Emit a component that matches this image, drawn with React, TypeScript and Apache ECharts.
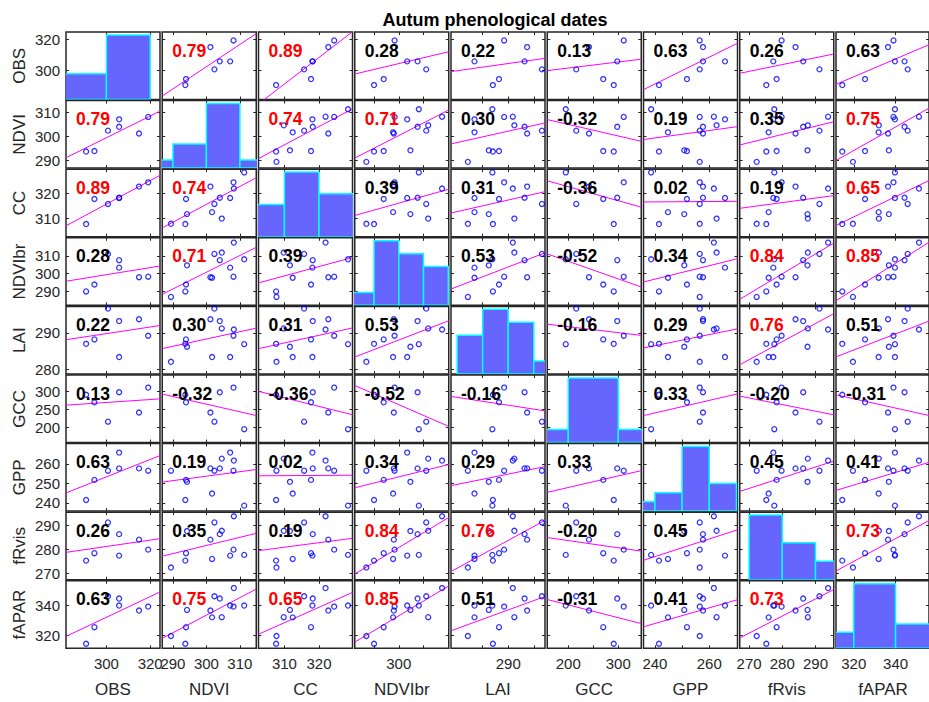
import React, { useEffect, useRef } from "react";
import * as echarts from "echarts";

// ---- data (13 observations, null = missing) ----
const variables = ["OBS", "NDVI", "CC", "NDVIbr", "LAI", "GCC", "GPP", "fRvis", "fAPAR"];
const OBS = [290.7, null, null, null, null, 300.7, 294.5, 305.8, 305.8, null, 314.9, 319.1, null];
const NDVI = [293.7, 289.4, 304.6, 294.2, 301.7, 302.4, 293.9, 307.1, 304.0, 308.2, 301.2, 308.1, 311.3];
const CC = [307.6, 307.7, 309.8, 311.6, 312.4, 315.7, 317.7, 318.1, 318.2, 321.9, 322.7, 324.4, 328.4];
const NDVIbr = [290.0, 286.9, 311.9, 304.7, 297.7, 311.1, 293.9, 303.4, 307.6, 317.5, 298.0, 298.3, 308.1];
const LAI = [287.0, 282.1, 291.2, 286.2, 283.4, 296.6, 288.2, 283.4, 293.2, 290.9, 293.7, 289.2, 286.9];
const GCC = [291, null, null, null, null, 216, 270, null, 298, null, 241.5, 311, 195];
const GPP = [241.5, 256.5, 262.7, 250.8, 244.8, 256.5, 251.8, 265.8, 257.7, 261.7, 257.7, 256.5, 238.6];
const fRvis = [275.2, 272.3, 287.7, 287.6, 275.9, 291.2, 278.3, 277.3, 286.3, 293.8, 284.0, 279.8, 277.6];
const fAPAR = [314.5, 319.6, 332.0, 336.8, 331.9, 345.8, 325.4, 339.7, 344.3, 351.2, 336.4, 339.0, 339.7];
const dataVars: (number | null)[][] = [OBS, NDVI, CC, NDVIbr, LAI, GCC, GPP, fRvis, fAPAR];

// correlation coefficients shown in the cells (row = y variable, col = x variable)
const corrOBS = [null, 0.79, 0.89, 0.28, 0.22, 0.13, 0.63, 0.26, 0.63];
const corrNDVI = [0.79, null, 0.74, 0.71, 0.30, -0.32, 0.19, 0.35, 0.75];
const corrCC = [0.89, 0.74, null, 0.39, 0.31, -0.36, 0.02, 0.19, 0.65];
const corrNDVIbr = [0.28, 0.71, 0.39, null, 0.53, -0.52, 0.34, 0.84, 0.85];
const corrLAI = [0.22, 0.30, 0.31, 0.53, null, -0.16, 0.29, 0.76, 0.51];
const corrGCC = [0.13, -0.32, -0.36, -0.52, -0.16, null, 0.33, -0.20, -0.31];
const corrGPP = [0.63, 0.19, 0.02, 0.34, 0.29, 0.33, null, 0.45, 0.41];
const corrFRvis = [0.26, 0.35, 0.19, 0.84, 0.76, -0.20, 0.45, null, 0.73];
const corrFAPAR = [0.63, 0.75, 0.65, 0.85, 0.51, -0.31, 0.41, 0.73, null];
const corrRows = [corrOBS, corrNDVI, corrCC, corrNDVIbr, corrLAI, corrGCC, corrGPP, corrFRvis, corrFAPAR];

// axis limits and ticks per variable
const axisMin = [281.5, 286.8, 302.5, 282.2, 278.8, 158, 235.8, 267.2, 311.5];
const axisMax = [324.5, 314.9, 329.7, 320.2, 297.2, 346, 270.4, 295.5, 356];
const xTickLabels = [[300, 320], [290, 300, 310], [310, 320], [300], [290], [200, 300], [240, 260], [270, 280, 290], [320, 340]];
const xTickMarks = [[300, 320], [290, 300, 310], [310, 320], [290, 300, 310], [285, 290, 295], [200, 250, 300], [240, 250, 260], [270, 280, 290], [320, 340]];
const yTickLabels = [[300, 320], [290, 300, 310], [310, 320], [290, 300, 310], [280, 290], [200, 250, 300], [240, 250, 260], [270, 280, 290], [320, 340]];
const histEdges = [
  [280, 300, 320],
  [280, 290, 300, 310, 320],
  [300, 310, 320, 330],
  [280, 290, 300, 310, 320],
  [280, 285, 290, 295, 300],
  [100, 200, 300, 400],
  [230, 240, 250, 260, 270],
  [270, 280, 290, 300],
  [300, 320, 340, 360],
];

const TITLE = "Autum phenological dates";

// layout
const X0 = 66, XP = 96.25, CW = 94;
const Y0 = 32, YP = 68.6, CH = 67.5;
const FONT = "'Liberation Sans', Arial, Helvetica, sans-serif";
const AX = "#262626";

function histCounts(vals: (number | null)[], edges: number[]) {
  const v = vals.filter((x) => x !== null) as number[];
  const out: number[][] = [];
  for (let b = 0; b < edges.length - 1; b++) {
    const lo = edges[b], hi = edges[b + 1];
    const last = b === edges.length - 2;
    const c = v.filter((x) => x >= lo && (last ? x <= hi : x < hi)).length;
    out.push([lo, hi, c]);
  }
  return out;
}

function fit(pts: number[][]) {
  const n = pts.length;
  const mx = pts.reduce((s, p) => s + p[0], 0) / n;
  const my = pts.reduce((s, p) => s + p[1], 0) / n;
  let sxy = 0, sxx = 0;
  pts.forEach((p) => { sxy += (p[0] - mx) * (p[1] - my); sxx += (p[0] - mx) ** 2; });
  const b = sxy / sxx;
  return { a: my - b * mx, b };
}

function buildOption() {
  const grid: any[] = [], xAxis: any[] = [], yAxis: any[] = [], series: any[] = [], graphic: any[] = [];
  const tickStyle = { show: true, inside: true, length: 3, lineStyle: { color: AX, width: 1 } };
  const labelStyle = { color: AX, fontSize: 15, fontFamily: FONT };

  for (let i = 0; i < 9; i++) {
    for (let j = 0; j < 9; j++) {
      const g = i * 9 + j;
      const L = X0 + j * XP, T = Y0 + i * YP;
      grid.push({ left: L, top: T, width: CW, height: CH, show: true, borderColor: AX, borderWidth: 1.5, backgroundColor: "#fff" });
      const xb = xAxis.length;
      xAxis.push({
        type: "value", gridIndex: g, position: "bottom", min: axisMin[j], max: axisMax[j],
        axisLine: { show: false }, splitLine: { show: false },
        axisTick: { ...tickStyle, customValues: xTickMarks[j] },
        axisLabel: { show: i === 8, customValues: xTickLabels[j], margin: 8, ...labelStyle },
      });
      xAxis.push({
        type: "value", gridIndex: g, position: "top", min: axisMin[j], max: axisMax[j],
        axisLine: { show: false }, splitLine: { show: false },
        axisTick: { ...tickStyle, customValues: xTickMarks[j] }, axisLabel: { show: false },
      });
      const yl = yAxis.length;
      yAxis.push({
        type: "value", gridIndex: g, position: "left", min: axisMin[i], max: axisMax[i],
        axisLine: { show: false }, splitLine: { show: false },
        axisTick: { ...tickStyle, customValues: yTickLabels[i] },
        axisLabel: { show: j === 0, customValues: yTickLabels[i], margin: 6, ...labelStyle },
      });
      yAxis.push({
        type: "value", gridIndex: g, position: "right", min: axisMin[i], max: axisMax[i],
        axisLine: { show: false }, splitLine: { show: false },
        axisTick: { ...tickStyle, customValues: yTickLabels[i] }, axisLabel: { show: false },
      });

      if (i === j) {
        const counts = histCounts(dataVars[i], histEdges[i]);
        const maxC = Math.max(...counts.map((c) => c[2]));
        const yc = yAxis.length;
        yAxis.push({ type: "value", gridIndex: g, min: 0, max: maxC * 1.045, show: false });
        series.push({
          type: "custom", xAxisIndex: xb, yAxisIndex: yc, clip: true, data: counts,
          renderItem: (params: any, api: any) => {
            const p0 = api.coord([api.value(0), 0]);
            const p1 = api.coord([api.value(1), api.value(2)]);
            return {
              type: "rect",
              shape: { x: p0[0], y: p1[1], width: p1[0] - p0[0], height: p0[1] - p1[1] },
              style: { fill: "#6666ff", stroke: "#00ffff", lineWidth: 1.5 },
            };
          },
        });
        continue;
      }

      const pts: number[][] = [];
      for (let k = 0; k < dataVars[j].length; k++) {
        const xv = dataVars[j][k], yv = dataVars[i][k];
        if (xv !== null && yv !== null) pts.push([xv, yv]);
      }
      const { a, b } = fit(pts);
      series.push({
        type: "line", xAxisIndex: xb, yAxisIndex: yl, clip: true, symbol: "none",
        data: [[axisMin[j], a + b * axisMin[j]], [axisMax[j], a + b * axisMax[j]]],
        lineStyle: { color: "#ff00ff", width: 1 }, z: 2,
      });
      series.push({
        type: "scatter", xAxisIndex: xb, yAxisIndex: yl, data: pts, symbol: "circle", symbolSize: 5,
        itemStyle: { color: "transparent", borderColor: "#0000ff", borderWidth: 1.3 }, z: 3,
      });
      const r = corrRows[i][j] as number;
      graphic.push({
        type: "text", x: L + 10, y: T + 18.5, z: 100,
        style: {
          text: r.toFixed(2), fontSize: 17.5, fontWeight: "bold", fontFamily: FONT,
          fill: Math.abs(r) >= 0.64 ? "#ff0000" : "#000000", align: "left", verticalAlign: "middle",
        },
      });
    }
  }

  variables.forEach((name, k) => {
    graphic.push({
      type: "text", x: 19, y: Y0 + k * YP + CH / 2, rotation: Math.PI / 2, z: 100,
      style: { text: name, fontSize: 17, fontFamily: FONT, fill: AX, align: "center", verticalAlign: "middle" },
    });
    graphic.push({
      type: "text", x: X0 + k * XP + CW / 2, y: 689.5, z: 100,
      style: { text: name, fontSize: 17, fontFamily: FONT, fill: AX, align: "center", verticalAlign: "middle" },
    });
  });
  graphic.push({
    type: "text", x: 495, y: 19.5, z: 100,
    style: { text: TITLE, fontSize: 18, fontWeight: "bold", fontFamily: FONT, fill: "#000", align: "center", verticalAlign: "middle" },
  });

  return { animation: false, backgroundColor: "#fff", textStyle: { fontFamily: FONT }, grid, xAxis, yAxis, series, graphic };
}

export default function App() {
  const ref = useRef<HTMLDivElement>(null);
  useEffect(() => {
    if (!ref.current) return;
    const chart = echarts.init(ref.current, undefined, { renderer: "svg" });
    chart.setOption(buildOption() as any);
    return () => chart.dispose();
  }, []);
  return <div ref={ref} style={{ position: "absolute", left: 0, top: 0, width: 929, height: 702 }} />;
}
